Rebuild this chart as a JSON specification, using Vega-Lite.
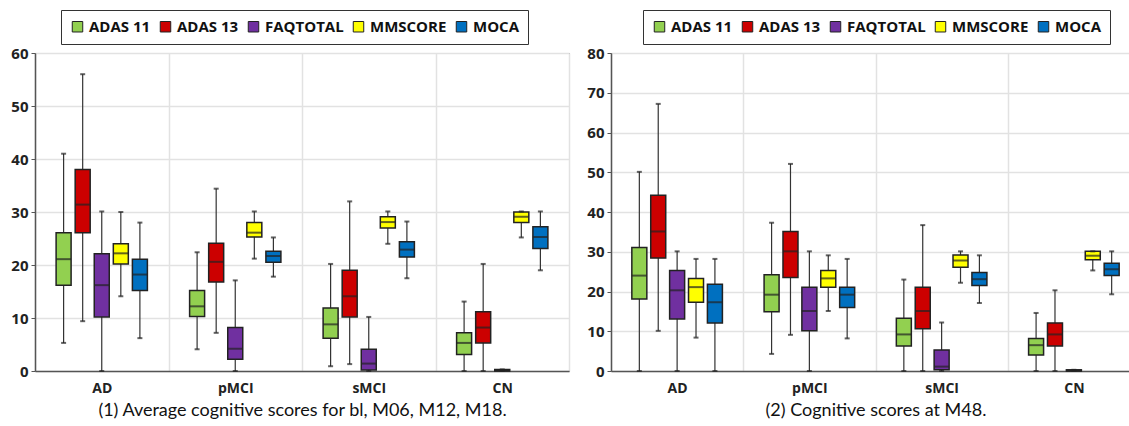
{
  "$schema": "https://vega.github.io/schema/vega-lite/v6.json",
  "background": "white",
  "padding": {"left": 10, "top": 9, "right": 0, "bottom": 0},
  "spacing": 16,
  "config": {
    "view": {"stroke": "#666", "strokeWidth": 1},
    "font": "Open Sans",
    "axis": {"gridColor": "#e2e2e2", "gridWidth": 1.5, "domainColor": "#555", "domainWidth": 1.5, "tickColor": "#555", "labelColor": "#222", "labelFont": "Open Sans", "labelFontWeight": "bold", "labelOverlap": false},
    "axisY": {"labelFontSize": 15, "tickSize": 4, "labelPadding": 3, "grid": true, "title": null},
    "axisX": {"labelFontSize": 14, "labelAngle": 0, "ticks": false, "labelPadding": 10, "grid": true, "tickBand": "extent", "titleFont": "Lato", "titleFontSize": 18, "titleFontWeight": "normal", "titleColor": "#111", "titlePadding": 6},
    "legend": {"orient": "none", "direction": "horizontal", "title": null, "strokeColor": "#333", "fillColor": "white", "padding": 9, "symbolType": "square", "symbolSize": 110, "symbolStrokeColor": "#222", "symbolStrokeWidth": 1, "labelFont": "Open Sans", "labelFontSize": 15, "labelFontWeight": "bold", "labelColor": "#111", "columnPadding": 7, "labelOffset": 4, "legendY": -43}
  },
  "datasets": {
    "m1": [
      {"group": "AD", "measure": "ADAS 11", "min": 5.3, "q1": 16.2, "median": 21.1, "q3": 26.1, "max": 41},
      {"group": "AD", "measure": "ADAS 13", "min": 9.4, "q1": 26.1, "median": 31.4, "q3": 38, "max": 56},
      {"group": "AD", "measure": "FAQTOTAL", "min": 0, "q1": 10.2, "median": 16.2, "q3": 22.1, "max": 30.1},
      {"group": "AD", "measure": "MMSCORE", "min": 14.1, "q1": 20.2, "median": 22.2, "q3": 24, "max": 30},
      {"group": "AD", "measure": "MOCA", "min": 6.2, "q1": 15.2, "median": 18.2, "q3": 21.1, "max": 28},
      {"group": "pMCI", "measure": "ADAS 11", "min": 4.1, "q1": 10.3, "median": 12.2, "q3": 15.2, "max": 22.4},
      {"group": "pMCI", "measure": "ADAS 13", "min": 7.2, "q1": 16.8, "median": 20.6, "q3": 24.1, "max": 34.4},
      {"group": "pMCI", "measure": "FAQTOTAL", "min": 0, "q1": 2.2, "median": 4.2, "q3": 8.2, "max": 17.1},
      {"group": "pMCI", "measure": "MMSCORE", "min": 21.2, "q1": 25.3, "median": 26.1, "q3": 28, "max": 30.1},
      {"group": "pMCI", "measure": "MOCA", "min": 17.8, "q1": 20.5, "median": 21.7, "q3": 22.6, "max": 25.2},
      {"group": "sMCI", "measure": "ADAS 11", "min": 0.9, "q1": 6.2, "median": 8.8, "q3": 11.9, "max": 20.2},
      {"group": "sMCI", "measure": "ADAS 13", "min": 1.3, "q1": 10.2, "median": 14.1, "q3": 19, "max": 32},
      {"group": "sMCI", "measure": "FAQTOTAL", "min": 0, "q1": 0.2, "median": 1.4, "q3": 4.1, "max": 10.2},
      {"group": "sMCI", "measure": "MMSCORE", "min": 24, "q1": 27, "median": 28.1, "q3": 29.1, "max": 30.1},
      {"group": "sMCI", "measure": "MOCA", "min": 17.5, "q1": 21.5, "median": 22.9, "q3": 24.4, "max": 28.2},
      {"group": "CN", "measure": "ADAS 11", "min": 0, "q1": 3.1, "median": 5.3, "q3": 7.2, "max": 13.1},
      {"group": "CN", "measure": "ADAS 13", "min": 0, "q1": 5.3, "median": 8.2, "q3": 11.2, "max": 20.2},
      {"group": "CN", "measure": "FAQTOTAL", "min": 0, "q1": 0, "median": 0.1, "q3": 0.3, "max": 0.3},
      {"group": "CN", "measure": "MMSCORE", "min": 25.2, "q1": 28, "median": 29.1, "q3": 30, "max": 30.1},
      {"group": "CN", "measure": "MOCA", "min": 19, "q1": 23.1, "median": 25.3, "q3": 27.2, "max": 30.1}
    ],
    "m2": [
      {"group": "AD", "measure": "ADAS 11", "min": 0, "q1": 18.1, "median": 24, "q3": 31.1, "max": 50.1},
      {"group": "AD", "measure": "ADAS 13", "min": 10.1, "q1": 28.4, "median": 35.1, "q3": 44.2, "max": 67.2},
      {"group": "AD", "measure": "FAQTOTAL", "min": 0, "q1": 13.1, "median": 20.3, "q3": 25.3, "max": 30.1},
      {"group": "AD", "measure": "MMSCORE", "min": 8.4, "q1": 17.3, "median": 21.1, "q3": 23.3, "max": 28.2},
      {"group": "AD", "measure": "MOCA", "min": 0, "q1": 12.1, "median": 17.3, "q3": 21.8, "max": 28.2},
      {"group": "pMCI", "measure": "ADAS 11", "min": 4.3, "q1": 14.9, "median": 19.2, "q3": 24.2, "max": 37.3},
      {"group": "pMCI", "measure": "ADAS 13", "min": 9.1, "q1": 23.5, "median": 30.1, "q3": 35.1, "max": 52.1},
      {"group": "pMCI", "measure": "FAQTOTAL", "min": 0, "q1": 10.1, "median": 15.1, "q3": 21.1, "max": 30.1},
      {"group": "pMCI", "measure": "MMSCORE", "min": 15.1, "q1": 21.1, "median": 23.3, "q3": 25.3, "max": 29.1},
      {"group": "pMCI", "measure": "MOCA", "min": 8.2, "q1": 16, "median": 19.2, "q3": 21.1, "max": 28.2},
      {"group": "sMCI", "measure": "ADAS 11", "min": 0, "q1": 6.3, "median": 9.2, "q3": 13.3, "max": 23},
      {"group": "sMCI", "measure": "ADAS 13", "min": 0, "q1": 10.6, "median": 15.1, "q3": 21.1, "max": 36.7},
      {"group": "sMCI", "measure": "FAQTOTAL", "min": 0, "q1": 0.3, "median": 1.1, "q3": 5.3, "max": 12.2},
      {"group": "sMCI", "measure": "MMSCORE", "min": 22.2, "q1": 26.1, "median": 27.8, "q3": 29.2, "max": 30.1},
      {"group": "sMCI", "measure": "MOCA", "min": 17.1, "q1": 21.5, "median": 23.1, "q3": 24.8, "max": 29.1},
      {"group": "CN", "measure": "ADAS 11", "min": 0, "q1": 4, "median": 6.5, "q3": 8.2, "max": 14.6},
      {"group": "CN", "measure": "ADAS 13", "min": 0, "q1": 6.3, "median": 9.2, "q3": 12.1, "max": 20.3},
      {"group": "CN", "measure": "FAQTOTAL", "min": 0, "q1": 0, "median": 0.1, "q3": 0.3, "max": 0.3},
      {"group": "CN", "measure": "MMSCORE", "min": 25.3, "q1": 28, "median": 29, "q3": 30.1, "max": 30.1},
      {"group": "CN", "measure": "MOCA", "min": 19.3, "q1": 24, "median": 25.6, "q3": 27.1, "max": 30.1}
    ]
  },
  "resolve": {"scale": {"y": "independent", "x": "independent", "xOffset": "independent", "color": "independent"}, "legend": {"color": "independent"}},
  "hconcat": [
    {
      "data": {"name": "m1"},
      "width": 534,
      "height": 318,
      "encoding": {
        "x": {"field": "group", "type": "nominal", "sort": ["AD", "pMCI", "sMCI", "CN"], "scale": {"paddingInner": 0, "paddingOuter": 0}, "axis": {"title": "(1) Average cognitive scores for bl, M06, M12, M18."}},
        "xOffset": {"field": "measure", "type": "nominal", "sort": ["ADAS 11", "ADAS 13", "FAQTOTAL", "MMSCORE", "MOCA"], "scale": {"paddingInner": 0, "paddingOuter": 1.55}}
      },
      "layer": [
        {"mark": {"type": "rule", "color": "#333", "strokeWidth": 1.2}, "encoding": {"y": {"field": "min", "type": "quantitative", "scale": {"domain": [0, 60], "nice": false}, "axis": {"values": [0, 10, 20, 30, 40, 50, 60]}}, "y2": {"field": "max"}}},
        {"mark": {"type": "bar", "width": 15, "stroke": "#222", "strokeWidth": 1.5}, "encoding": {"y": {"field": "q1", "type": "quantitative", "axis": {"values": [0, 10, 20, 30, 40, 50, 60]}}, "y2": {"field": "q3"}, "color": {"field": "measure", "type": "nominal", "scale": {"domain": ["ADAS 11", "ADAS 13", "FAQTOTAL", "MMSCORE", "MOCA"], "range": ["#92D050", "#CC0000", "#7030A0", "#FFFF00", "#0070C0"]}, "legend": {"legendX": 26}}}},
        {"mark": {"type": "tick", "color": "#222", "size": 15, "thickness": 2}, "encoding": {"y": {"field": "median", "type": "quantitative", "axis": {"values": [0, 10, 20, 30, 40, 50, 60]}}}},
        {"mark": {"type": "tick", "color": "#222", "size": 5, "thickness": 2}, "encoding": {"y": {"field": "min", "type": "quantitative", "axis": {"values": [0, 10, 20, 30, 40, 50, 60]}}}},
        {"mark": {"type": "tick", "color": "#222", "size": 5, "thickness": 2}, "encoding": {"y": {"field": "max", "type": "quantitative", "axis": {"values": [0, 10, 20, 30, 40, 50, 60]}}}}
      ]
    },
    {
      "data": {"name": "m2"},
      "width": 529,
      "height": 318,
      "encoding": {
        "x": {"field": "group", "type": "nominal", "sort": ["AD", "pMCI", "sMCI", "CN"], "scale": {"paddingInner": 0, "paddingOuter": 0}, "axis": {"title": "(2) Cognitive scores at M48."}},
        "xOffset": {"field": "measure", "type": "nominal", "sort": ["ADAS 11", "ADAS 13", "FAQTOTAL", "MMSCORE", "MOCA"], "scale": {"paddingInner": 0, "paddingOuter": 1.55}}
      },
      "layer": [
        {"mark": {"type": "rule", "color": "#333", "strokeWidth": 1.2}, "encoding": {"y": {"field": "min", "type": "quantitative", "scale": {"domain": [0, 80], "nice": false}, "axis": {"values": [0, 10, 20, 30, 40, 50, 60, 70, 80]}}, "y2": {"field": "max"}}},
        {"mark": {"type": "bar", "width": 15, "stroke": "#222", "strokeWidth": 1.5}, "encoding": {"y": {"field": "q1", "type": "quantitative", "axis": {"values": [0, 10, 20, 30, 40, 50, 60, 70, 80]}}, "y2": {"field": "q3"}, "color": {"field": "measure", "type": "nominal", "scale": {"domain": ["ADAS 11", "ADAS 13", "FAQTOTAL", "MMSCORE", "MOCA"], "range": ["#92D050", "#CC0000", "#7030A0", "#FFFF00", "#0070C0"]}, "legend": {"legendX": 32}}}},
        {"mark": {"type": "tick", "color": "#222", "size": 15, "thickness": 2}, "encoding": {"y": {"field": "median", "type": "quantitative", "axis": {"values": [0, 10, 20, 30, 40, 50, 60, 70, 80]}}}},
        {"mark": {"type": "tick", "color": "#222", "size": 5, "thickness": 2}, "encoding": {"y": {"field": "min", "type": "quantitative", "axis": {"values": [0, 10, 20, 30, 40, 50, 60, 70, 80]}}}},
        {"mark": {"type": "tick", "color": "#222", "size": 5, "thickness": 2}, "encoding": {"y": {"field": "max", "type": "quantitative", "axis": {"values": [0, 10, 20, 30, 40, 50, 60, 70, 80]}}}}
      ]
    }
  ]
}
